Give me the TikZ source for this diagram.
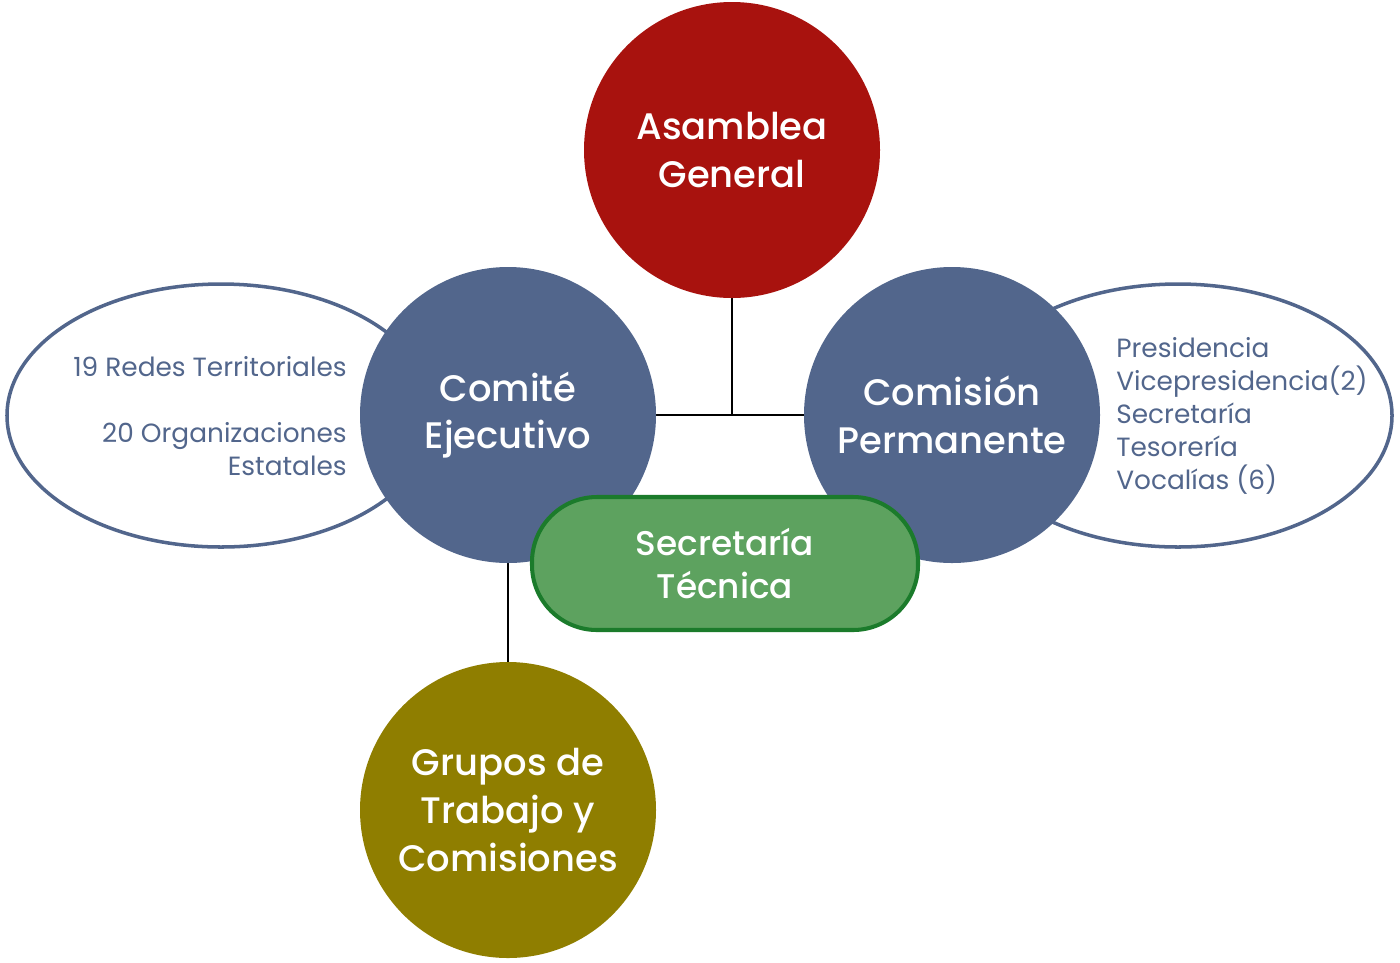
\documentclass[tikz,border=0pt]{standalone}
\usepackage{fontspec}
\setmainfont{Poppins}[BoldFont=Poppins Medium]
\usepackage{xcolor}
\usepackage{tikz}
\usetikzlibrary{shapes.geometric, positioning, backgrounds, calc}
\definecolor{asambleacolor}{RGB}{168, 18, 14}
\definecolor{organcolor}{RGB}{82, 102, 140}
\definecolor{gruposcolor}{RGB}{143, 126, 0}
\definecolor{secfill}{RGB}{93, 162, 95}
\definecolor{secdraw}{RGB}{27, 123, 43}

\begin{document}
\begin{tikzpicture}[
    organ/.style={circle, minimum size=5.92cm, inner sep=0pt, align=center, text=white, font=\fontsize{21}{27}\selectfont\bfseries},
    members/.style={ellipse, draw=organcolor, line width=2pt, fill=white, minimum width=8.56cm, minimum height=5.26cm},
    memberlist/.style={inner sep=0pt, text=organcolor, font=\fontsize{15}{18.8}\selectfont},
    link/.style={black, line width=1.1pt},
]
\useasboundingbox (0,0) rectangle (28,-19.24);

% ============ MAIN BODIES ============
\node[organ, fill=asambleacolor] (asamblea) at (14.64,-3.00) {Asamblea\\General};
\node[organ, fill=organcolor] (comite) at (10.16,-8.30) {Comité\\Ejecutivo};
\node[organ, fill=organcolor] (comision) at (19.04,-8.30) {Comisión\\Permanente};
\node[organ, fill=gruposcolor, font=\fontsize{21}{27.5}\selectfont\bfseries] (grupos) at (10.16,-16.20) {Grupos de\\Trabajo y\\Comisiones};

% ============ MEMBER ELLIPSES (behind) ============
\begin{scope}[on background layer]
    \node[members] (redes) at (4.42,-8.31) {};
    \node[members] (cargos) at (23.56,-8.31) {};
    % Connectors
    \draw[link] (asamblea.south) -- (asamblea.south |- comite.east);
    \draw[link] (comite.east) -- (comision.west);
    \draw[link] (comite.south) -- (grupos.north);
\end{scope}

% Member texts
\node[memberlist, anchor=east, align=right] (redestext) at (6.94,-8.32) {
    19 Redes Territoriales\\[18.8pt]
    20 Organizaciones\\Estatales
};
\node[memberlist, anchor=west, align=left] (cargostext) at (22.32,-8.31) {
    Presidencia\\Vicepresidencia(2)\\Secretaría\\Tesorería\\Vocalías (6)
};

% ============ SECRETARIA TECNICA ============
\node[rectangle, rounded corners=1.3cm, fill=secfill, draw=secdraw, line width=2.3pt,
      minimum width=7.72cm, minimum height=2.66cm, align=center, text=white,
      font=\fontsize{19.5}{24}\selectfont\bfseries] (secretaria) at (14.50,-11.27) {Secretaría\\Técnica};

\end{tikzpicture}
\end{document}
